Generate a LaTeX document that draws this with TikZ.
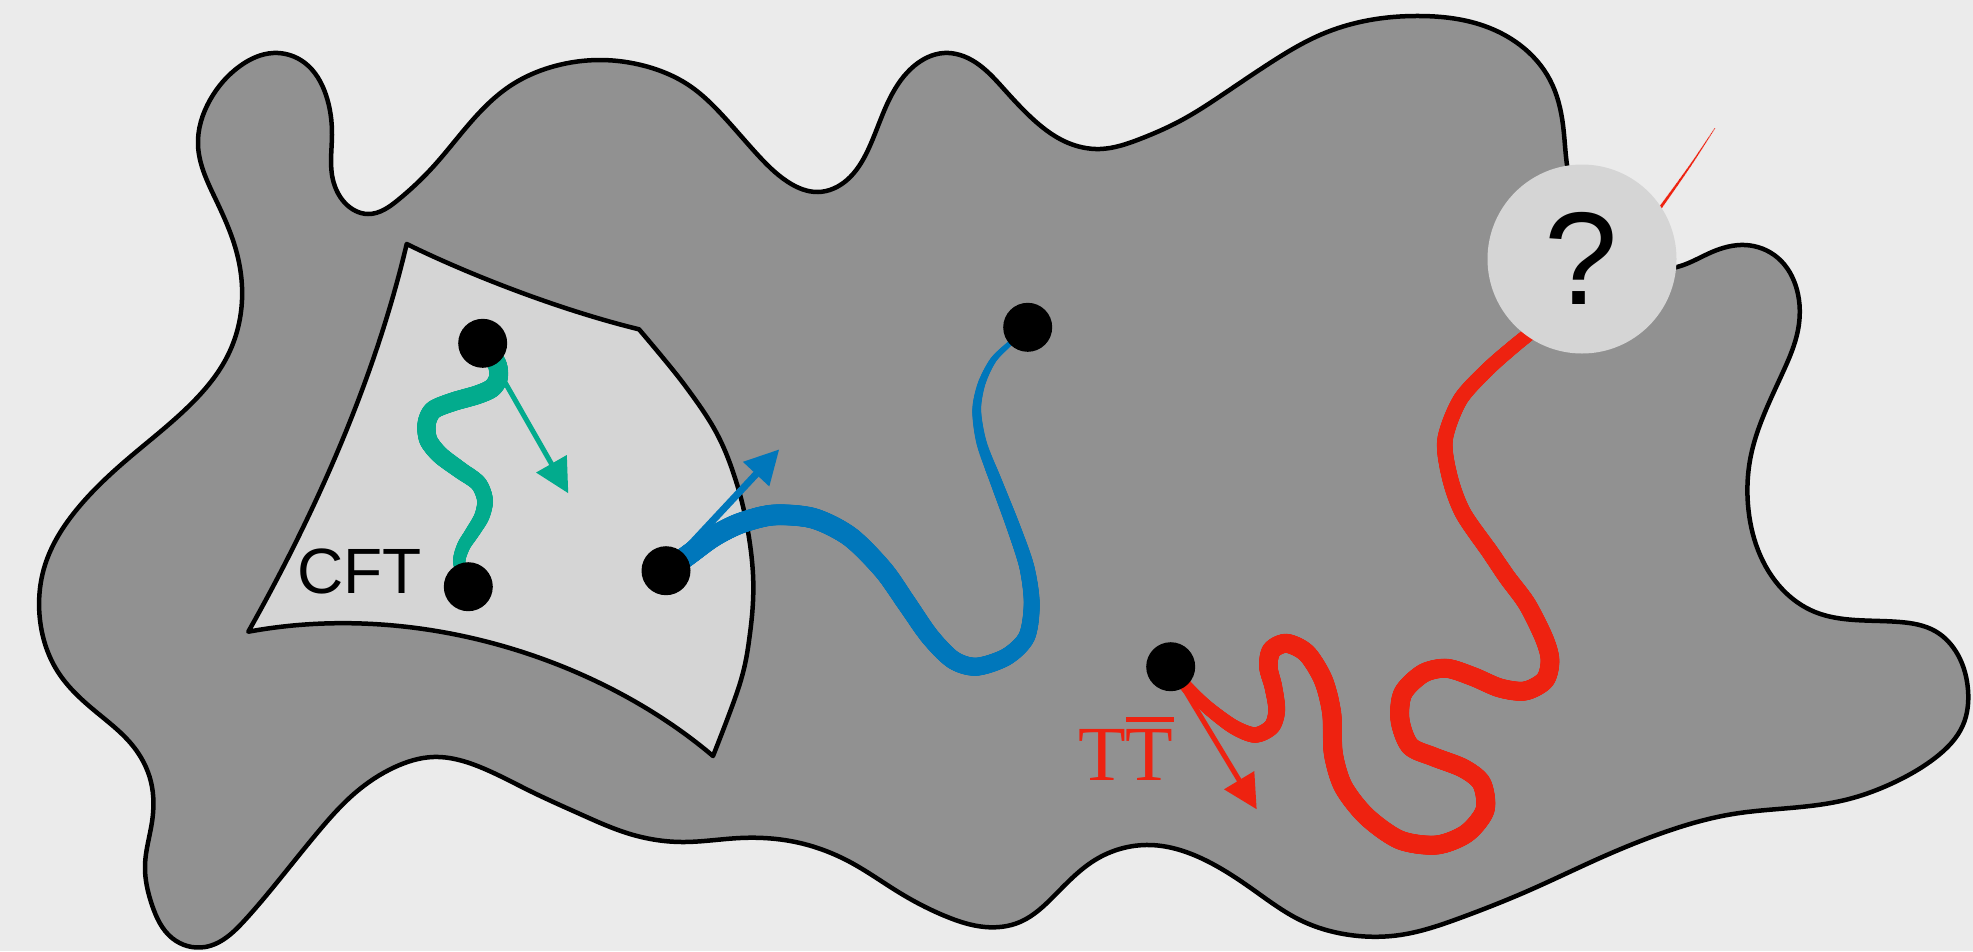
\documentclass[tikz,border=0pt]{standalone}
\usepackage{fontspec}
\setmainfont{Liberation Serif}
\newfontfamily\sansf{Liberation Sans}
\usetikzlibrary{arrows.meta,decorations.markings,hobby}
\definecolor{bgc}{HTML}{EBEBEB}
\definecolor{blobc}{HTML}{919191}
\definecolor{cftc}{HTML}{D5D5D5}
\definecolor{tealc}{HTML}{02AB8D}
\definecolor{bluec}{HTML}{0077BB}
\definecolor{redc}{HTML}{EE2210}
\newcommand{\barredT}{\setbox0\hbox{T}\rlap{\raisebox{58.3pt}{\rule{\wd0}{5pt}}}T}
\tikzset{
  taper/.style n args={2}{decorate, decoration={markings,
    mark=between positions 0.002 and 0.998 step 1pt with {%
      \pgfmathsetmacro\tpos{min(1,max(0,\pgfkeysvalueof{/pgf/decoration/mark info/distance from start}/\pgfdecoratedpathlength))}%
      \pgfmathsetmacro\rr{0.5*(#2)}%
      \fill[#1] (0pt,0pt) circle[radius=\rr pt];}}}
}
\begin{document}
\begin{tikzpicture}[x=1pt,y=-1pt,
  outline/.style={draw=black, line width=4.5pt, line join=round},
  dot/.style={circle, fill=black, minimum size=49pt, inner sep=0pt},
  arr/.style={-{Triangle[length=34pt,width=34pt]}}]
\useasboundingbox (0,0) rectangle (1973,951);
\fill[bgc] (0,0) rectangle (1973,951);
% bulk region
\draw[outline, fill=blobc] plot[closed hobby] coordinates {
(198,145) (210,100) (240,66) (273,53) (305,63) (326,95) (332,135) (332,175) (345,203) (368,214) (398,200) (432,168) (470,123) (510,86) (555,66) (600,60) (645,66) (690,86) (724,117) (756,153) (788,182) (818,192) (847,180) (868,150) (890,98) (914,66) (944,53) (975,62) (1003,88) (1035,121) (1066,142) (1100,149) (1140,139) (1180,121) (1225,93) (1270,63) (1320,35) (1370,20) (1420,16) (1475,23) (1520,45) (1550,80) (1563,125) (1567,165) (1600,240) (1677,267) (1712,252) (1745,245) (1778,258) (1797,290) (1798,330) (1783,372) (1765,412) (1751,455) (1748,505) (1758,550) (1783,590) (1815,612) (1855,620) (1900,622) (1935,631) (1958,655) (1968,690) (1963,725) (1935,758) (1895,782) (1845,800) (1790,808) (1733,814) (1665,832) (1600,858) (1530,890) (1460,918) (1400,935) (1350,935) (1300,920) (1255,891) (1205,860) (1150,845) (1095,860) (1055,895) (1020,922) (985,927) (945,916) (900,893) (850,862) (800,843) (740,838) (682,842) (630,834) (580,814) (530,791) (480,767) (433,757) (395,767) (355,793) (318,832) (283,875) (245,920) (205,947) (172,938) (152,905) (145,865) (152,822) (151,782) (133,746) (95,711) (58,672) (40,620) (45,565) (78,508) (130,457) (190,405) (228,355) (242,300) (236,250) (216,200)};
% CFT region
\draw[outline, fill=cftc] (406.7,244) .. controls (470,275) and (560,310) .. (639,329.3)
  -- plot[smooth, tension=0.6] coordinates {(639,329.3) (683.3,383.3) (716.7,433.3) (736.7,483.3) (748.3,533.3) (753.3,583.3) (750,633.3) (740,683.3) (713,756)}
  .. controls (600,660) and (420,600) .. (248.3,631.7)
  .. controls (300,540) and (370,400) .. (406.7,244) -- cycle;
% positions
\coordinate (pA) at (482.7,343.3);
\coordinate (pB) at (468.3,586.7);
\coordinate (pC) at (666,570.7);
\coordinate (pD) at (1027.7,327.3);
\coordinate (pE) at (1170.7,666.7);
\coordinate (tA) at (568.3,493.3);
\coordinate (tC) at (779.3,449.3);
\coordinate (tE) at (1256.7,809.3);
\coordinate (rtip) at (1715,128);
% teal worldline
\path[taper={tealc}{19-8.5*\tpos*\tpos*\tpos}] plot[smooth] coordinates {(pA) (496.7,363.3) (498.3,378) (491.7,388.3) (476.7,395) (453.3,401.7) (433.3,410) (426.7,423.3) (428.3,440) (440,455) (460,470) (478.3,483.3) (485,500) (481.7,516.7) (471.7,533.3) (463.3,546.7) (459.3,563.3) (pB)};
% blue worldline
\path[taper={bluec}{21-17*\tpos*\tpos*sqrt(\tpos)}] plot[smooth] coordinates {(pC) (688.3,555) (713.3,536.7) (740,523.3) (773.3,515) (813.3,518.3) (850,536.7) (883.3,570) (906.7,603.3) (930,636.7) (953.3,660) (976.7,666.7) (1006.7,656.7) (1026.7,636.7) (1031.7,603.3) (1026.7,566.7) (1013.3,526.7) (996.7,483.3) (981.7,443.3) (976.7,410) (981.7,383.3) (993.3,360) (1010,343.3) (pD)};
% red worldline
\path[taper={redc}{ifthenelse(\tpos<0.15, 11.5+7.5*\tpos/0.15, ifthenelse(\tpos<0.65, 19, 19-6*(\tpos-0.65)/0.35))}] plot[smooth] coordinates {(pE) (1186.7,686.7) (1206.7,706.7) (1233.3,726.7) (1255,735) (1271.7,726.7) (1276.7,710) (1273.3,686.7) (1268.3,666.7) (1271.7,650) (1286.7,643.3) (1306.7,653.3) (1323.3,680) (1331.7,713.3) (1333.3,753.3) (1343.3,786.7) (1366.7,816.7) (1400,840) (1436.7,845) (1466.7,833.3) (1485,810) (1481.7,783.3) (1463.3,768.3) (1433.3,756.7) (1410,746) (1400,720) (1403,693) (1423.3,673.3) (1446.7,668.3) (1473.3,676.7) (1500,688) (1525,691) (1545,680) (1550,660) (1544,638) (1527,604) (1507,577) (1490,552) (1463,513) (1450,478) (1445,440) (1460,400) (1487,370) (1513,347) (1540,325) (1580,290)};
% red continuation beyond the circle
\path[taper={redc}{5-4*\tpos}] plot[smooth] coordinates {(1620,255) (1645,228) (1668,197) (1692,163) (rtip)};
% arrows
\draw[arr, tealc, line width=5pt] (pA) -- (tA);
\draw[arr, bluec, line width=7pt] (pC) -- (tC);
\draw[arr, redc, line width=5pt] (pE) -- (tE);
% question circle
\node[circle, fill=cftc, minimum size=189pt, inner sep=0pt] (qc) at (1582,259) {};
\node[anchor=base, inner sep=0pt, font=\sansf\fontsize{132}{132}\selectfont] (qm) at (1581,304) {?};
% dots
\node[dot] (dA) at (pA) {};
\node[dot] (dB) at (pB) {};
\node[dot] (dC) at (pC) {};
\node[dot] (dD) at (pD) {};
\node[dot] (dE) at (pE) {};
% labels
\node[anchor=base west, inner sep=0pt, font=\sansf\fontsize{64}{64}\selectfont] (cft) at (297,593) {CFT};
\node[anchor=base west, inner sep=0pt, text=redc, font=\fontsize{78}{78}\selectfont] (ttbar) at (1078,780) {T\barredT};
\end{tikzpicture}
\end{document}
